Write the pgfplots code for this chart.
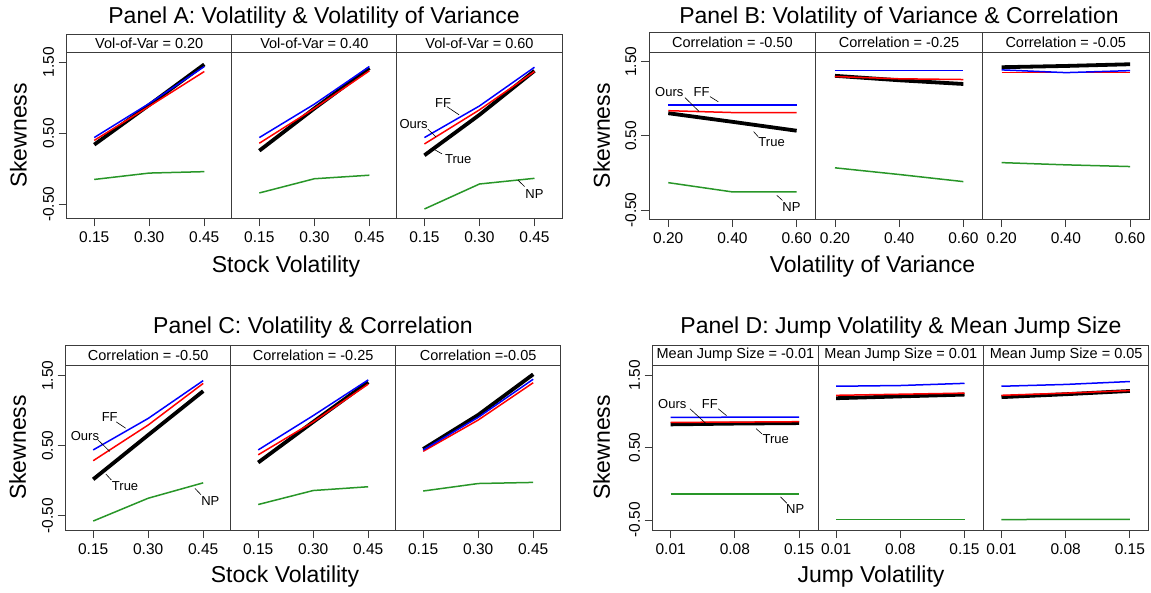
\documentclass[border=0pt]{standalone}
\usepackage{fontspec}
\setmainfont{Liberation Sans}
\usepackage{pgfplots}
\usepackage{pgfplotstable}
\pgfplotsset{compat=1.18}

\definecolor{npgreen}{RGB}{40,150,40}
\definecolor{boxgray}{RGB}{60,60,60}

% one table per sub-panel: x = category (0,1,2)
\pgfplotstableread{
x true ours ff np
0 0.34 0.40 0.44 -0.15
1 0.90 0.88 0.92 -0.06
2 1.47 1.37 1.44 -0.04
}\tabAa
\pgfplotstableread{
x true ours ff np
0 0.255 0.36 0.44 -0.34
1 0.85 0.85 0.91 -0.14
2 1.42 1.38 1.44 -0.09
}\tabAb
\pgfplotstableread{
x true ours ff np
0 0.19 0.35 0.44 -0.566
1 0.76 0.83 0.885 -0.214
2 1.38 1.37 1.43 -0.134
}\tabAc
\pgfplotstableread{
x true ours ff np
0 0.806 0.84 0.914 -0.13
1 0.69 0.815 0.914 -0.255
2 0.57 0.815 0.914 -0.255
}\tabBa
\pgfplotstableread{
x true ours ff np
0 1.31 1.30 1.38 0.07
1 1.25 1.27 1.38 -0.02
2 1.20 1.26 1.38 -0.116
}\tabBb
\pgfplotstableread{
x true ours ff np
0 1.426 1.353 1.39 0.14
1 1.443 1.353 1.353 0.11
2 1.466 1.353 1.38 0.087
}\tabBc
\pgfplotstableread{
x true ours ff np
0 0.02 0.286 0.44 -0.576
1 0.653 0.796 0.89 -0.25
2 1.28 1.39 1.43 -0.03
}\tabCa
\pgfplotstableread{
x true ours ff np
0 0.26 0.37 0.44 -0.34
1 0.84 0.84 0.93 -0.14
2 1.41 1.38 1.44 -0.086
}\tabCb
\pgfplotstableread{
x true ours ff np
0 0.453 0.42 0.44 -0.147
1 0.94 0.867 0.905 -0.04
2 1.52 1.40 1.45 -0.024
}\tabCc
\pgfplotstableread{
x true ours ff np
0 0.819 0.847 0.915 -0.14
1 0.83 0.85 0.918 -0.14
2 0.837 0.856 0.92 -0.14
}\tabDa
\pgfplotstableread{
x true ours ff np
0 1.18 1.22 1.345 -0.495
1 1.205 1.235 1.355 -0.495
2 1.23 1.25 1.385 -0.495
}\tabDb
\pgfplotstableread{
x true ours ff np
0 1.195 1.22 1.345 -0.495
1 1.235 1.25 1.37 -0.49
2 1.28 1.285 1.41 -0.49
}\tabDc

\newcommand\tfont{\fontsize{23}{27}\selectfont}
\newcommand\sfont{\fontsize{14.5}{16}\selectfont}
\newcommand\afont{\fontsize{13}{15}\selectfont}
\newcommand\kfont{\fontsize{15.5}{17}\selectfont}

\pgfplotsset{
  lat/.style={scale only axis, anchor=south west, clip=false,
    xtick={0,1,2}, ytick={-0.5,0.5,1.5}, yticklabels={-0.50,0.50,1.50},
    tick align=outside, xtick pos=bottom, ytick pos=left, major tick length=8pt,
    axis line style={draw=boxgray, line width=0.9pt},
    every tick/.style={draw=boxgray, line width=0.9pt},
    ticklabel style={font=\kfont},
    xticklabel style={anchor=north, inner sep=0pt},
    yticklabel style={rotate=90, anchor=south, inner sep=0pt},
    xticklabel shift=5pt, yticklabel shift=4.5pt,
  },
  inner/.style={ytick=\empty},
  trueS/.style={black, line width=3.8pt},
  oursS/.style={red, line width=1.5pt},
  ffS/.style={blue, line width=1.5pt},
  npS/.style={npgreen, line width=1.5pt},
  panA/.style={lat, width=165.1pt, height=165.6pt, xmin=-0.5, xmax=2.5,
    ymin=-0.697, ymax=1.635, xticklabels={0.15,0.30,0.45}},
  panB/.style={lat, width=166.7pt, height=166.7pt, xmin=-0.3, xmax=2.297,
    ymin=-0.62, ymax=1.627, xticklabels={0.20,0.40,0.60}},
  panC/.style={lat, width=165pt, height=165pt, xmin=-0.5, xmax=2.5,
    ymin=-0.704, ymax=1.653, xticklabels={0.15,0.30,0.45}},
  panD/.style={lat, width=165.4pt, height=165pt, xmin=-0.28, xmax=2.296,
    ymin=-0.638, ymax=1.638, xticklabels={0.01,0.08,0.15}},
}

\newcommand\series[1]{%
  \addplot[trueS] table[x=x,y=true]{#1};
  \addplot[oursS] table[x=x,y=ours]{#1};
  \addplot[ffS] table[x=x,y=ff]{#1};
  \addplot[npS] table[x=x,y=np]{#1};
}
\newcommand\strip[2]{%
  \draw[boxgray, line width=0.9pt] (rel axis cs:0,1) -- ++(0pt,#1) -| (rel axis cs:1,1);
  \path (rel axis cs:0.5,1) ++(0pt,#1/2) node[font=\sfont]{#2};
}
\newcommand\lab[7]{%
  \draw[black, line width=0.6pt] (axis cs:#1,#2) -- (axis cs:#3,#4);
  \node[font=\afont, inner sep=0pt] at (axis cs:#5,#6) {#7};
}

\begin{document}
\begin{tikzpicture}
\useasboundingbox (0pt,0pt) rectangle (1151pt,-592pt);

% ---------- Panel A ----------
\begin{axis}[panA, at={(66.7pt,-218.3pt)}]
\series{\tabAa}
\strip{18.7pt}{Vol-of-Var = 0.20}
\end{axis}
\begin{axis}[panA, inner, at={(231.8pt,-218.3pt)}]
\series{\tabAb}
\strip{18.7pt}{Vol-of-Var = 0.40}
\end{axis}
\begin{axis}[panA, inner, at={(396.9pt,-218.3pt)}]
\series{\tabAc}
\strip{18.7pt}{Vol-of-Var = 0.60}
\lab{0.41}{0.875}{0.63}{0.76}{0.34}{0.93}{FF}
\lab{0.06}{0.56}{0.21}{0.45}{-0.196}{0.627}{Ours}
\lab{0.14}{0.29}{0.32}{0.21}{0.615}{0.134}{True}
\lab{1.70}{-0.16}{1.82}{-0.25}{2.0}{-0.355}{NP}
\end{axis}
\node[font=\tfont, anchor=base] at (314pt,-23pt) {Panel A: Volatility \& Volatility of Variance};
\node[font=\tfont, anchor=base] at (286pt,-272.7pt) {Stock Volatility};
\node[font=\tfont, rotate=90] at (18.3pt,-135.5pt) {Skewness};

% ---------- Panel B ----------
\begin{axis}[panB, at={(649pt,-219pt)}]
\series{\tabBa}
\strip{19.6pt}{Correlation = -0.50}
\lab{0.26}{1.016}{0.48}{0.83}{0.016}{1.097}{Ours}
\lab{0.65}{1.03}{0.78}{0.96}{0.52}{1.097}{FF}
\lab{1.33}{0.558}{1.40}{0.49}{1.61}{0.415}{True}
\lab{1.69}{-0.30}{1.78}{-0.37}{1.92}{-0.46}{NP}
\end{axis}
\begin{axis}[panB, inner, at={(815.7pt,-219pt)}]
\series{\tabBb}
\strip{19.6pt}{Correlation = -0.25}
\end{axis}
\begin{axis}[panB, inner, at={(982.4pt,-219pt)}]
\series{\tabBc}
\strip{19.6pt}{Correlation = -0.05}
\end{axis}
\node[font=\tfont, anchor=base] at (899pt,-23pt) {Panel B: Volatility of Variance \& Correlation};
\node[font=\tfont, anchor=base] at (872.5pt,-272.7pt) {Volatility of Variance};
\node[font=\tfont, rotate=90] at (601.7pt,-135.7pt) {Skewness};

% ---------- Panel C ----------
\begin{axis}[panC, at={(65.7pt,-530pt)}]
\series{\tabCa}
\strip{20pt}{Correlation = -0.50}
\lab{0.42}{0.84}{0.59}{0.75}{0.30}{0.905}{FF}
\lab{0.09}{0.58}{0.30}{0.42}{-0.15}{0.643}{Ours}
\lab{0.23}{0.096}{0.33}{0.01}{0.58}{-0.07}{True}
\lab{1.85}{-0.11}{1.96}{-0.2}{2.13}{-0.286}{NP}
\end{axis}
\begin{axis}[panC, inner, at={(230.7pt,-530pt)}]
\series{\tabCb}
\strip{20pt}{Correlation = -0.25}
\end{axis}
\begin{axis}[panC, inner, at={(395.7pt,-530pt)}]
\series{\tabCc}
\strip{20pt}{Correlation =-0.05}
\end{axis}
\node[font=\tfont, anchor=base] at (313pt,-333pt) {Panel C: Volatility \& Correlation};
\node[font=\tfont, anchor=base] at (285pt,-582.7pt) {Stock Volatility};
\node[font=\tfont, rotate=90] at (17.7pt,-447.5pt) {Skewness};

% ---------- Panel D ----------
\begin{axis}[panD, at={(652.7pt,-530pt)}]
\series{\tabDa}
\strip{20pt}{Mean Jump Size = -0.01}
\lab{0.30}{1.034}{0.55}{0.83}{0.025}{1.10}{Ours}
\lab{0.74}{1.034}{0.87}{0.94}{0.61}{1.10}{FF}
\lab{1.33}{0.76}{1.42}{0.69}{1.635}{0.614}{True}
\lab{1.71}{-0.18}{1.81}{-0.27}{1.94}{-0.35}{NP}
\end{axis}
\begin{axis}[panD, inner, at={(818.1pt,-530pt)}]
\series{\tabDb}
\strip{20pt}{Mean Jump Size = 0.01}
\end{axis}
\begin{axis}[panD, inner, at={(983.5pt,-530pt)}]
\series{\tabDc}
\strip{20pt}{Mean Jump Size = 0.05}
\end{axis}
\node[font=\tfont, anchor=base] at (901pt,-333pt) {Panel D: Jump Volatility \& Mean Jump Size};
\node[font=\tfont, anchor=base] at (871pt,-582.7pt) {Jump Volatility};
\node[font=\tfont, rotate=90] at (601.7pt,-447.5pt) {Skewness};
\end{tikzpicture}
\end{document}
